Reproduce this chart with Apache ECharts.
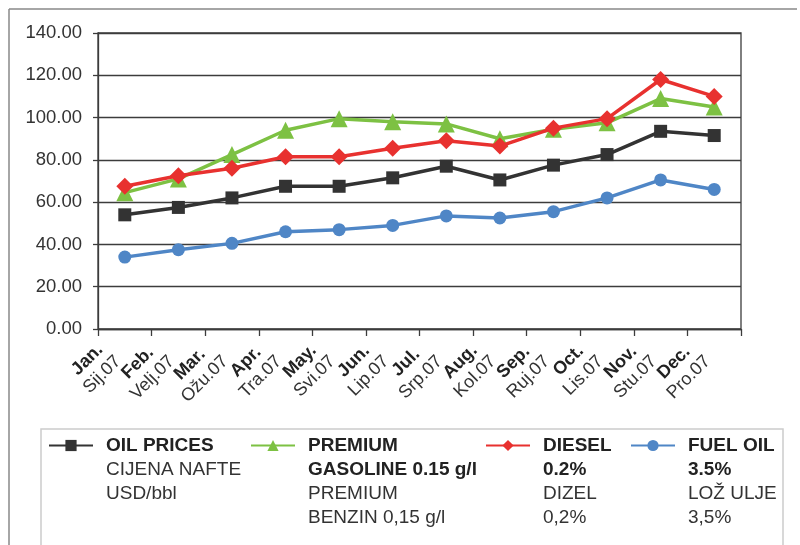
<!DOCTYPE html>
<html>
<head>
<meta charset="utf-8">
<script src="https://cdn.jsdelivr.net/npm/echarts@6/dist/echarts.min.js"></script>
<style>
  html, body { margin: 0; padding: 0; background: #fff; }
  #chart { width: 800px; height: 545px; }
</style>
</head>
<body>
<div id="chart"></div>
<script>
// month labels: English (bold) + Croatian abbreviation
const monthsEn = ['Jan.', 'Feb.', 'Mar.', 'Apr.', 'May.', 'Jun.', 'Jul.', 'Aug.', 'Sep.', 'Oct.', 'Nov.', 'Dec.'];
const monthsHr = ['Sij.07', 'Velj.07', 'Ožu.07', 'Tra.07', 'Svi.07', 'Lip.07', 'Srp.07', 'Kol.07', 'Ruj.07', 'Lis.07', 'Stu.07', 'Pro.07'];

const oilPrices = [54, 57.5, 62, 67.5, 67.5, 71.5, 77, 70.5, 77.5, 82.5, 93.5, 91.5];
const premium   = [64.5, 71, 82.5, 94, 99.5, 98, 97, 90, 94.5, 97.5, 109, 105];
const diesel    = [67.5, 72.5, 76, 81.5, 81.5, 85.5, 89, 86.5, 95, 99.5, 118, 110];
const fuelOil   = [34, 37.5, 40.5, 46, 47, 49, 53.5, 52.5, 55.5, 62, 70.5, 66];

const yTicks = { min: 0, max: 140, interval: 20 };

const categories = monthsEn.map((m, i) => m + '|' + monthsHr[i]);

const chart = echarts.init(document.getElementById('chart'));
const FONT = 'Liberation Sans, Arial, sans-serif';
const NARROW = 'Liberation Sans Narrow, Liberation Sans, Arial, sans-serif';
const gridColor = '#3c3c3c';

function legendFor(name, lines, left) {
  // lines: [[text, bold], ...]; pad top so first line sits beside the icon
  const lh = 24;
  return {
    data: [name],
    left: left,
    top: 436,
    padding: 0,
    itemWidth: 44,
    itemHeight: 14,
    selectedMode: false,
    formatter: () => lines.map(l => '{' + (l[1] ? 'b' : 'n') + '|' + l[0] + '}').join('\n'),
    textStyle: {
      padding: [(lines.length - 1) * lh, 0, 0, 8],
      rich: {
        b: { fontFamily: NARROW, fontSize: 19, fontWeight: 'bold', color: '#222', lineHeight: lh },
        n: { fontFamily: NARROW, fontSize: 19, color: '#333', lineHeight: lh }
      }
    }
  };
}

const option = {
  backgroundColor: '#fff',
  animation: false,
  graphic: [
    { type: 'line', shape: { x1: 9, y1: 9, x2: 797, y2: 9 }, style: { stroke: '#888', lineWidth: 1.5 } },
    { type: 'line', shape: { x1: 9, y1: 9, x2: 9, y2: 545 }, style: { stroke: '#888', lineWidth: 1.5 } },
    { type: 'rect', shape: { x: 41, y: 429, width: 742, height: 130 }, style: { fill: '#fff', stroke: '#ccc', lineWidth: 1.5 }, z: -1 }
  ],
  grid: { left: 98, right: 59, top: 33, bottom: 216, show: true, borderColor: gridColor, borderWidth: 1.3 },
  xAxis: {
    type: 'category',
    data: categories,
    boundaryGap: true,
    axisLine: { lineStyle: { color: gridColor, width: 1.3 } },
    axisTick: { show: true, length: 7, lineStyle: { color: gridColor, width: 1.3 } },
    axisLabel: {
      interval: 0,
      rotate: 45,
      margin: 8,
      padding: [0, 20, 0, 0],
      formatter: v => {
        const p = v.split('|');
        return '{b|' + p[0] + '}\n{n|' + p[1] + '}';
      },
      rich: {
        b: { fontFamily: FONT, fontSize: 18, fontWeight: 'bold', color: '#222', lineHeight: 21, align: 'center' },
        n: { fontFamily: FONT, fontSize: 18, color: '#333', lineHeight: 21, align: 'center' }
      }
    }
  },
  yAxis: {
    type: 'value',
    min: yTicks.min,
    max: yTicks.max,
    interval: yTicks.interval,
    axisLine: { show: true, lineStyle: { color: gridColor, width: 1.3 } },
    axisTick: { show: true, length: 5, lineStyle: { color: gridColor, width: 1.3 } },
    splitLine: { lineStyle: { color: gridColor, width: 1.3 } },
    axisLabel: {
      formatter: v => v.toFixed(2),
      fontFamily: FONT, fontSize: 18.5, color: '#333', margin: 16
    }
  },
  legend: [
    legendFor('OIL PRICES', [['OIL PRICES', 1], ['CIJENA NAFTE', 0], ['USD/bbl', 0]], 48),
    legendFor('PREMIUM GASOLINE', [['PREMIUM', 1], ['GASOLINE 0.15 g/l', 1], ['PREMIUM', 0], ['BENZIN 0,15 g/l', 0]], 250),
    legendFor('DIESEL', [['DIESEL', 1], ['0.2%', 1], ['DIZEL', 0], ['0,2%', 0]], 485),
    legendFor('FUEL OIL', [['FUEL OIL', 1], ['3.5%', 1], ['LOŽ ULJE', 0], ['3,5%', 0]], 630)
  ],
  series: [
    {
      name: 'OIL PRICES', type: 'line', data: oilPrices,
      symbol: 'rect', symbolSize: 13,
      lineStyle: { color: '#333', width: 3.5 },
      itemStyle: { color: '#333' }, z: 3
    },
    {
      name: 'PREMIUM GASOLINE', type: 'line', data: premium,
      symbol: 'triangle', symbolSize: 17,
      lineStyle: { color: '#7dc143', width: 3.5 },
      itemStyle: { color: '#7dc143' }, z: 4
    },
    {
      name: 'DIESEL', type: 'line', data: diesel,
      symbol: 'diamond', symbolSize: 17,
      lineStyle: { color: '#e8312f', width: 3.5 },
      itemStyle: { color: '#e8312f' }, z: 5
    },
    {
      name: 'FUEL OIL', type: 'line', data: fuelOil,
      symbol: 'circle', symbolSize: 13,
      lineStyle: { color: '#4f86c6', width: 3.5 },
      itemStyle: { color: '#4f86c6' }, z: 2
    }
  ]
};

chart.setOption(option);
</script>
</body>
</html>
